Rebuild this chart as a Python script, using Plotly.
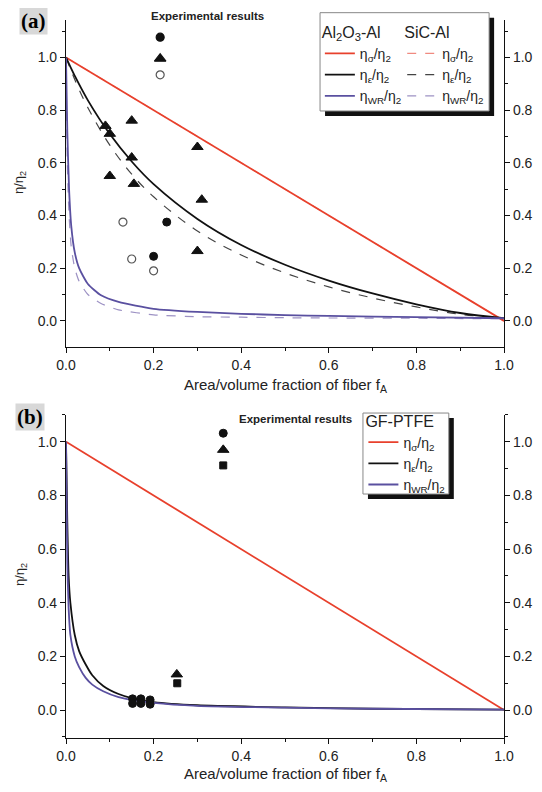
import plotly.graph_objects as go

# ---------------- data ----------------
# Panel (a): Al2O3-Al (solid) and SiC-Al (dashed)
f_line = [0.0, 1.0]
sigma_a = [1.0, 0.0]

f_eps_a = [0.0, 0.02, 0.05, 0.1, 0.15, 0.2, 0.3, 0.4, 0.5, 0.6, 0.7, 0.8, 0.9, 1.0]
eps_al2o3 = [1.0, 0.93, 0.837, 0.709, 0.605, 0.519, 0.387, 0.288, 0.213, 0.153, 0.104, 0.063, 0.03, 0.01]
eps_sic = [1.0, 0.916, 0.809, 0.667, 0.557, 0.471, 0.341, 0.25, 0.182, 0.129, 0.087, 0.053, 0.025, 0.01]

f_wr_a = [0.0, 0.003, 0.007, 0.012, 0.02, 0.03, 0.05, 0.08, 0.12, 0.2, 0.3, 0.4, 0.5, 0.6, 0.8, 1.0]
wr_al2o3 = [1.0, 0.72, 0.5, 0.36, 0.26, 0.2, 0.14, 0.097, 0.072, 0.046, 0.034, 0.027, 0.022, 0.019, 0.014, 0.01]
wr_sic = [1.0, 0.6, 0.4, 0.28, 0.2, 0.15, 0.1, 0.066, 0.042, 0.023, 0.016, 0.014, 0.012, 0.011, 0.01, 0.008]

# experimental points, panel (a)
tri_a_f = [0.09, 0.10, 0.15, 0.15, 0.10, 0.155, 0.30, 0.31, 0.30]
tri_a_eta = [0.74, 0.71, 0.76, 0.62, 0.55, 0.52, 0.66, 0.46, 0.265]
dot_a_f = [0.23, 0.20]
dot_a_eta = [0.375, 0.245]
ring_a_f = [0.13, 0.15, 0.20]
ring_a_eta = [0.375, 0.235, 0.19]
key_a_f = [0.215, 0.215, 0.215]
key_a_eta = [1.077, 0.995, 0.934]

# Panel (b): GF-PTFE
f_b = [0.0, 0.003, 0.006, 0.01, 0.02, 0.03, 0.045, 0.06, 0.085, 0.12, 0.15, 0.2, 0.3, 0.5, 0.7, 1.0]
eps_b = [1.0, 0.7, 0.5, 0.4, 0.28, 0.22, 0.17, 0.13, 0.09, 0.06, 0.045, 0.03, 0.018, 0.01, 0.005, 0.002]
wr_b = [1.0, 0.55, 0.38, 0.28, 0.2, 0.16, 0.12, 0.095, 0.07, 0.048, 0.038, 0.027, 0.016, 0.009, 0.005, 0.002]

dot_b_f = [0.152, 0.152, 0.171, 0.171, 0.192, 0.192]
dot_b_eta = [0.042, 0.025, 0.042, 0.025, 0.038, 0.022]
tri_b_f = [0.253]
tri_b_eta = [0.133]
sq_b_f = [0.254]
sq_b_eta = [0.10]
key_b_f = [0.359, 0.359, 0.359]
key_b_eta = [1.032, 0.970, 0.912]

# ---------------- styles ----------------
RED = "#e8402c"
BLACK = "#111111"
BLUE = "#5a50a0"
RED_D = "#f08a80"
BLACK_D = "#444444"
BLUE_D = "#9d92c4"
GREY = "#555555"
FONT = "Liberation Sans, Arial, sans-serif"

sig = "η<sub>σ</sub>/η<sub>2</sub>"
eps = "η<sub>ε</sub>/η<sub>2</sub>"
wr = "η<sub>WR</sub>/η<sub>2</sub>"

fig = go.Figure()

# panel (a) curves – dashed (SiC) first so solid draws over
fig.add_trace(go.Scatter(x=f_line, y=sigma_a, mode="lines", line=dict(color=RED_D, width=1.2, dash="dash"),
                         name=sig, legend="legend2", legendrank=1))
fig.add_trace(go.Scatter(x=f_eps_a, y=eps_sic, mode="lines", line=dict(color=BLACK_D, width=1.2, dash="dash", shape="spline"),
                         name=eps, legend="legend2", legendrank=2))
fig.add_trace(go.Scatter(x=f_wr_a, y=wr_sic, mode="lines", line=dict(color=BLUE_D, width=1.2, dash="dash", shape="spline", smoothing=0.6),
                         name=wr, legend="legend2", legendrank=3))
fig.add_trace(go.Scatter(x=f_line, y=sigma_a, mode="lines", line=dict(color=RED, width=1.8),
                         name=sig, legend="legend", legendrank=1))
fig.add_trace(go.Scatter(x=f_eps_a, y=eps_al2o3, mode="lines", line=dict(color=BLACK, width=1.8, shape="spline"),
                         name=eps, legend="legend", legendrank=2))
fig.add_trace(go.Scatter(x=f_wr_a, y=wr_al2o3, mode="lines", line=dict(color=BLUE, width=1.8, shape="spline", smoothing=0.6),
                         name=wr, legend="legend", legendrank=3))

# panel (a) experimental
mk_line = dict(width=1, color=BLACK)
fig.add_trace(go.Scatter(x=tri_a_f, y=tri_a_eta, mode="markers",
                         marker=dict(symbol="triangle-up", size=10, color=BLACK, line=mk_line, opacity=1), showlegend=False))
fig.add_trace(go.Scatter(x=dot_a_f, y=dot_a_eta, mode="markers",
                         marker=dict(symbol="circle", size=8, color=BLACK, line=mk_line, opacity=1), showlegend=False))
fig.add_trace(go.Scatter(x=ring_a_f, y=ring_a_eta, mode="markers",
                         marker=dict(symbol="circle-open", size=8, color=GREY, line=dict(width=1.2, color=GREY), opacity=1),
                         showlegend=False))
fig.add_trace(go.Scatter(x=key_a_f, y=key_a_eta, mode="markers",
                         marker=dict(symbol=["circle", "triangle-up", "circle-open"], size=[8, 10, 8], opacity=1,
                                     color=[BLACK, BLACK, GREY], line=dict(width=1.2, color=[BLACK, BLACK, GREY])),
                         showlegend=False))
# invisible trace to carry right axis of (a)
fig.add_trace(go.Scatter(x=f_line, y=sigma_a, yaxis="y3", mode="lines", line=dict(width=0),
                         opacity=0, showlegend=False, hoverinfo="skip"))

# panel (b) curves
fig.add_trace(go.Scatter(x=f_line, y=sigma_a, xaxis="x2", yaxis="y2", mode="lines", line=dict(color=RED, width=1.8),
                         name=sig, legend="legend3", legendrank=1))
fig.add_trace(go.Scatter(x=f_b, y=eps_b, xaxis="x2", yaxis="y2", mode="lines",
                         line=dict(color=BLACK, width=1.8, shape="spline", smoothing=0.6),
                         name=eps, legend="legend3", legendrank=2))
fig.add_trace(go.Scatter(x=f_b, y=wr_b, xaxis="x2", yaxis="y2", mode="lines",
                         line=dict(color=BLUE, width=1.8, shape="spline", smoothing=0.6),
                         name=wr, legend="legend3", legendrank=3))
fig.add_trace(go.Scatter(x=dot_b_f, y=dot_b_eta, xaxis="x2", yaxis="y2", mode="markers",
                         marker=dict(symbol="circle", size=8, color=BLACK, line=mk_line, opacity=1), showlegend=False))
fig.add_trace(go.Scatter(x=tri_b_f, y=tri_b_eta, xaxis="x2", yaxis="y2", mode="markers",
                         marker=dict(symbol="triangle-up", size=10, color=BLACK, line=mk_line, opacity=1), showlegend=False))
fig.add_trace(go.Scatter(x=sq_b_f, y=sq_b_eta, xaxis="x2", yaxis="y2", mode="markers",
                         marker=dict(symbol="square", size=7, color=BLACK, line=mk_line, opacity=1), showlegend=False))
fig.add_trace(go.Scatter(x=key_b_f, y=key_b_eta, xaxis="x2", yaxis="y2", mode="markers",
                         marker=dict(symbol=["circle", "triangle-up", "square"], size=[8, 10, 7], color=BLACK,
                                     line=mk_line, opacity=1),
                         showlegend=False))
fig.add_trace(go.Scatter(x=f_line, y=sigma_a, xaxis="x2", yaxis="y4", mode="lines", line=dict(width=0),
                         opacity=0, showlegend=False, hoverinfo="skip"))

# ---------------- axes ----------------
minor = dict(ticks="outside", ticklen=3, tickcolor=BLACK, dtick=0.1, tick0=0)
xax = dict(range=[0, 1], dtick=0.2, tick0=0, tickformat=".1f", ticks="outside", ticklen=5, tickcolor=BLACK,
           showline=True, linecolor=BLACK, linewidth=1.2, showgrid=False, zeroline=False, minor=minor,
           tickfont=dict(size=14, color="#222222", family=FONT), automargin=False)
yax = dict(dtick=0.2, tick0=0, tickformat=".1f", ticks="outside", ticklen=5, tickcolor=BLACK,
           showline=True, linecolor=BLACK, linewidth=1.2, showgrid=False, zeroline=False, minor=minor,
           tickfont=dict(size=14, color="#222222", family=FONT), automargin=False)

dom_a = [0.5446, 1.0]
dom_b = [0.0, 0.4499]
rng_a = [-0.099, 1.142]
rng_b = [-0.104, 1.10]

# page body has an 8px margin: figure is shrunk by 8px and margins reduced so plot areas land where the reference has them
fig.update_layout(
    width=534, height=784,
    margin=dict(l=58, r=38, t=12, b=54, autoexpand=False),
    paper_bgcolor="white", plot_bgcolor="white",
    font=dict(family=FONT, color="#222222"),
    xaxis=dict(**xax, domain=[0, 1], anchor="y"),
    yaxis=dict(**yax, domain=dom_a, range=rng_a, anchor="x"),
    yaxis3=dict(**yax, range=rng_a, overlaying="y", side="right", anchor="x"),
    xaxis2=dict(**xax, domain=[0, 1], anchor="y2"),
    yaxis2=dict(**yax, domain=dom_b, range=rng_b, anchor="x2"),
    yaxis4=dict(**yax, range=rng_b, overlaying="y2", side="right", anchor="x2"),
    showlegend=True,
    legend=dict(x=0.5796, y=1.0042, xanchor="left", yanchor="top", bgcolor="rgba(0,0,0,0)",
                font=dict(size=14, family=FONT), tracegroupgap=0, itemwidth=30,
                title=dict(text="Al<sub>2</sub>O<sub>3</sub>-Al", font=dict(size=16, family=FONT))),
    legend2=dict(x=0.7676, y=1.0042, xanchor="left", yanchor="top", bgcolor="rgba(0,0,0,0)",
                 font=dict(size=14, family=FONT), tracegroupgap=0, itemwidth=30,
                 title=dict(text="SiC-Al", font=dict(size=16, family=FONT))),
    legend3=dict(x=0.679, y=0.4628, xanchor="left", yanchor="top", bgcolor="rgba(0,0,0,0)",
                 font=dict(size=14, family=FONT), tracegroupgap=0, itemwidth=30,
                 title=dict(text="GF-PTFE", font=dict(size=16, family=FONT))),
)

# legend boxes with shadow
def box(x0, x1, y0, y1):
    dx, dy = 5 / 438, 5 / 718
    fig.add_shape(type="rect", xref="paper", yref="paper", x0=x0 + dx, x1=x1 + dx, y0=y0 - dy, y1=y1 - dy,
                  fillcolor=BLACK, line=dict(width=0), layer="above")
    fig.add_shape(type="rect", xref="paper", yref="paper", x0=x0, x1=x1, y0=y0, y1=y1,
                  fillcolor="white", line=dict(color="#888888", width=1), layer="above")

box(0.580, 0.966, 0.8733, 1.0102)
box(0.678, 0.874, 0.3398, 0.4526)

ann = []
ann.append(dict(text="<b>(a)</b>", x=-0.075, y=0.9986, font=dict(family="Liberation Serif, Times New Roman, serif", size=21, color="black"),
                bgcolor="#d8d8d8"))
ann.append(dict(text="<b>(b)</b>", x=-0.083, y=0.4475, font=dict(family="Liberation Serif, Times New Roman, serif", size=21, color="black"),
                bgcolor="#d8d8d8"))
ann.append(dict(text="<b>Experimental results</b>", x=0.322, y=1.0056, font=dict(size=11.5, family=FONT, color="#222222")))
ann.append(dict(text="<b>Experimental results</b>", x=0.523, y=0.4443, font=dict(size=11.5, family=FONT, color="#222222")))
ann.append(dict(text="η/η<sub>2</sub>", x=-0.105, y=0.773, textangle=-90, font=dict(size=13, family=FONT, color="#222222")))
ann.append(dict(text="η/η<sub>2</sub>", x=-0.105, y=0.227, textangle=-90, font=dict(size=13, family=FONT, color="#222222")))
ann.append(dict(text="Area/volume fraction of fiber f<sub>A</sub>", x=0.5, y=0.4916, font=dict(size=15, family=FONT, color="#222222")))
ann.append(dict(text="Area/volume fraction of fiber f<sub>A</sub>", x=0.5, y=-0.0515, font=dict(size=15, family=FONT, color="#222222")))
for a in ann:
    a.update(xref="paper", yref="paper", showarrow=False, xanchor="center", yanchor="middle")
    fig.add_annotation(**a)

fig.write_html("out.html")
